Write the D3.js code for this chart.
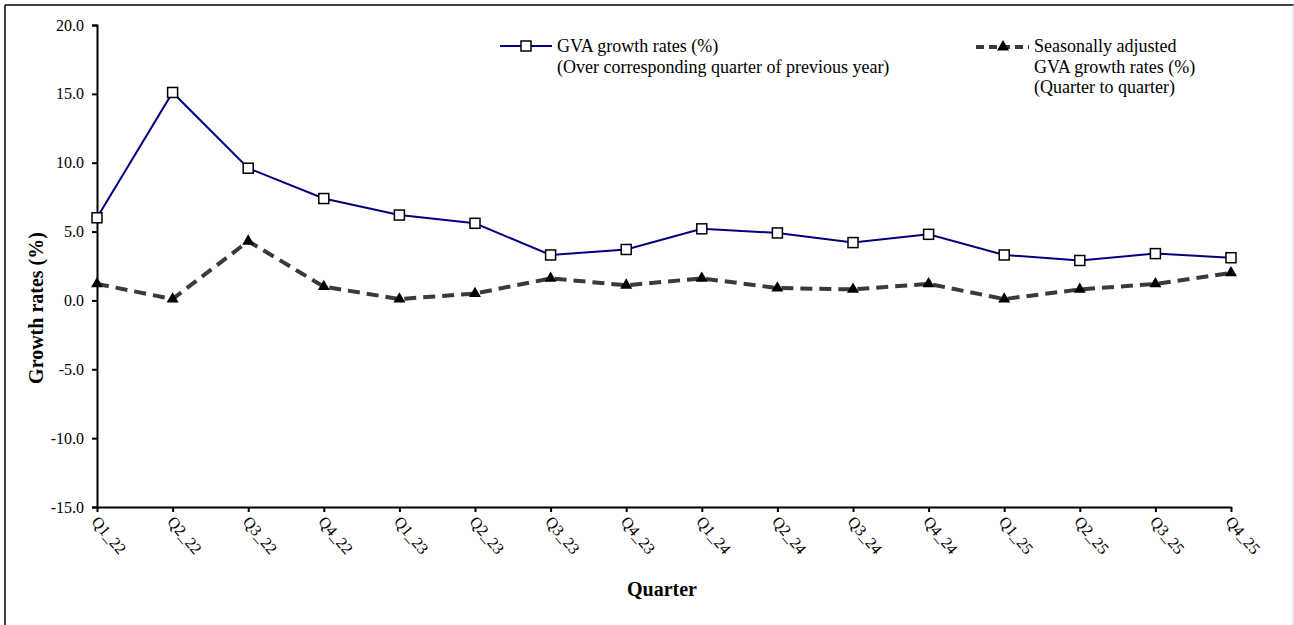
<!DOCTYPE html>
<html>
<head>
<meta charset="utf-8">
<script src="https://cdn.jsdelivr.net/npm/d3@7"></script>
<style>
  html, body { margin: 0; padding: 0; background: #fff; }
  svg { display: block; font-family: "Liberation Serif", "Times New Roman", serif; }
</style>
</head>
<body>
<svg id="chart" width="1294" height="625"></svg>
<script>
// Quarterly GVA growth rates
const quarters = ["Q1_22","Q2_22","Q3_22","Q4_22","Q1_23","Q2_23","Q3_23","Q4_23",
                  "Q1_24","Q2_24","Q3_24","Q4_24","Q1_25","Q2_25","Q3_25","Q4_25"];
// Year-on-year growth (over corresponding quarter of previous year)
const gvaYoY = [6.0, 15.1, 9.6, 7.4, 6.2, 5.6, 3.3, 3.7, 5.2, 4.9, 4.2, 4.8, 3.3, 2.9, 3.4, 3.1];
// Seasonally adjusted quarter-to-quarter growth
const gvaQoQ = [1.2, 0.1, 4.3, 1.0, 0.1, 0.5, 1.6, 1.1, 1.6, 0.9, 0.8, 1.2, 0.1, 0.8, 1.2, 2.0];
const yTicks = [-15, -10, -5, 0, 5, 10, 15, 20];
const legendYoY = ["GVA growth rates (%)", "(Over corresponding quarter of previous year)"];
const legendQoQ = ["Seasonally adjusted", "GVA growth rates (%)", "(Quarter to quarter)"];

const svg = d3.select("#chart");

// Frame around the chart area
svg.append("line").attr("x1", 5).attr("y1", 5).attr("x2", 1294).attr("y2", 5)
  .attr("stroke", "#000").attr("stroke-width", 1.5);
svg.append("line").attr("x1", 5).attr("y1", 5).attr("x2", 5).attr("y2", 625)
  .attr("stroke", "#000").attr("stroke-width", 1.5);
svg.append("line").attr("x1", 1293).attr("y1", 5).attr("x2", 1293).attr("y2", 625)
  .attr("stroke", "#d0d0d0").attr("stroke-width", 1);

const x = d3.scalePoint().domain(quarters).range([97, 1231]);
const y = d3.scaleLinear().domain([-15, 20]).range([507, 25]);

// Y axis
const yAxis = svg.append("g").attr("transform", "translate(97,0)")
  .call(d3.axisLeft(y).tickValues(yTicks).tickFormat(d3.format(".1f")).tickSize(5).tickPadding(8));
yAxis.select(".domain").attr("stroke", "#000").attr("stroke-width", 2);
yAxis.selectAll(".tick line").attr("stroke", "#000").attr("stroke-width", 2);
yAxis.selectAll(".tick text").attr("font-family", "Liberation Serif").attr("font-size", 16)
  .attr("fill", "#000").text(d => d3.format(".1f")(d).replace("−", "-"));

// X axis at the bottom of the value range
const xAxis = svg.append("g").attr("transform", `translate(0,${y(-15)})`)
  .call(d3.axisBottom(x).tickSize(5).tickSizeOuter(0));
xAxis.select(".domain").attr("stroke", "#000").attr("stroke-width", 2);
xAxis.selectAll(".tick line").attr("stroke", "#000").attr("stroke-width", 2);
xAxis.selectAll(".tick text")
  .attr("font-family", "Liberation Serif").attr("font-size", 16).attr("fill", "#000")
  .attr("text-anchor", "start")
  .attr("x", 0).attr("y", 0).attr("dy", "0.3em")
  .attr("transform", "translate(-3,12) rotate(50)");

// Axis titles
svg.append("text").attr("x", 662).attr("y", 596).attr("text-anchor", "middle")
  .attr("font-weight", "bold").attr("font-size", 20).text("Quarter");
svg.append("text").attr("transform", "translate(43,308) rotate(-90)").attr("text-anchor", "middle")
  .attr("font-weight", "bold").attr("font-size", 20).text("Growth rates (%)");

// Year-on-year series
const lineYoY = d3.line().x((d, i) => x(quarters[i])).y(d => y(d));
svg.append("path").datum(gvaYoY).attr("d", lineYoY)
  .attr("fill", "none").attr("stroke", "#000080").attr("stroke-width", 2);

// Quarter-to-quarter series
svg.append("path").datum(gvaQoQ).attr("d", lineYoY)
  .attr("fill", "none").attr("stroke", "#3a3a3a").attr("stroke-width", 4)
  .attr("stroke-dasharray", "12,7");

svg.append("g").selectAll("rect").data(gvaYoY).join("rect")
  .attr("x", (d, i) => x(quarters[i]) - 5).attr("y", d => y(d) - 5)
  .attr("width", 10).attr("height", 10)
  .attr("fill", "#fff").attr("stroke", "#000").attr("stroke-width", 1.5);

const tri = d3.symbol().type(d3.symbolTriangle).size(62);
svg.append("g").selectAll("path").data(gvaQoQ).join("path")
  .attr("d", tri)
  .attr("transform", (d, i) => `translate(${x(quarters[i])},${y(d)})`)
  .attr("fill", "#000");

// Legend
const leg1 = svg.append("g");
leg1.append("line").attr("x1", 500).attr("x2", 552).attr("y1", 46).attr("y2", 46)
  .attr("stroke", "#000080").attr("stroke-width", 2);
leg1.append("rect").attr("x", 521).attr("y", 41).attr("width", 10).attr("height", 10)
  .attr("fill", "#fff").attr("stroke", "#000").attr("stroke-width", 1.5);
leg1.selectAll("text").data(legendYoY).join("text")
  .attr("x", 557).attr("y", (d, i) => 52 + i * 20.5)
  .attr("font-size", 18).text(d => d);

const leg2 = svg.append("g");
leg2.append("line").attr("x1", 976).attr("x2", 1029).attr("y1", 47).attr("y2", 47)
  .attr("stroke", "#3a3a3a").attr("stroke-width", 4).attr("stroke-dasharray", "8,5");
leg2.append("path").attr("d", tri).attr("transform", "translate(1003,47)").attr("fill", "#000");
leg2.selectAll("text").data(legendQoQ).join("text")
  .attr("x", 1034).attr("y", (d, i) => 52 + i * 20.5)
  .attr("font-size", 18).text(d => d);
</script>
</body>
</html>
